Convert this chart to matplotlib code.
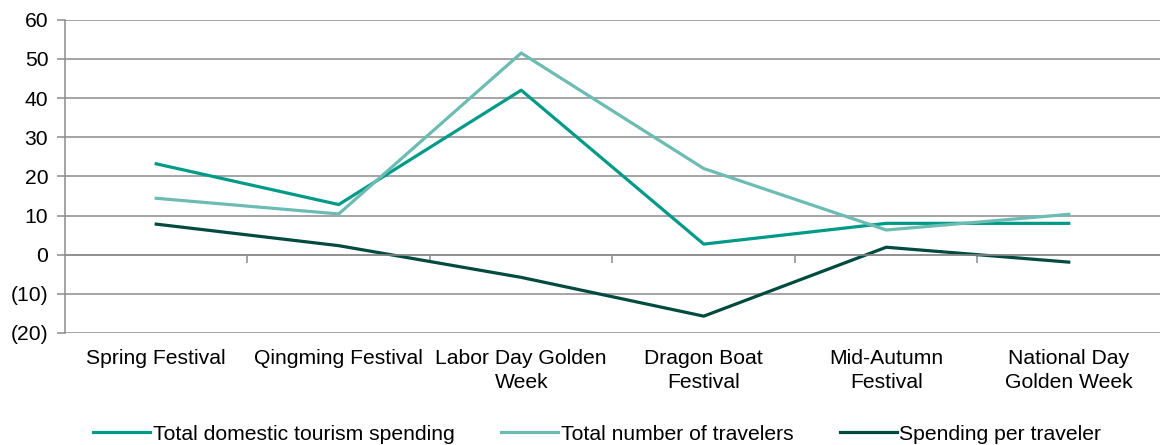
import matplotlib.pyplot as plt
from matplotlib.transforms import blended_transform_factory

plt.rcParams['font.family'] = ['Liberation Sans', 'DejaVu Sans']

festivals = ['Spring Festival', 'Qingming Festival', 'Labor Day Golden\nWeek',
             'Dragon Boat\nFestival', 'Mid-Autumn\nFestival', 'National Day\nGolden Week']
total_spending = [23.2, 12.8, 42.0, 2.7, 8.0, 8.0]
total_travelers = [14.4, 10.4, 51.5, 22.0, 6.3, 10.3]
spending_per_traveler = [7.8, 2.3, -5.8, -15.7, 1.9, -1.9]

yticks = [-20, -10, 0, 10, 20, 30, 40, 50, 60]
ytick_labels = ['(20)', '(10)', '0', '10', '20', '30', '40', '50', '60']

grid_col = '#8c8c8c'
fs = 15.2

fig = plt.figure(figsize=(11.6, 4.45), dpi=100)
ax = fig.add_axes([0.056, 0.2517, 0.944, 0.704])

x = list(range(len(festivals)))
ax.plot(x, total_spending, color='#009a88', lw=2.3, label='Total domestic tourism spending')
ax.plot(x, total_travelers, color='#6cbcb4', lw=2.3, label='Total number of travelers')
ax.plot(x, spending_per_traveler, color='#004a40', lw=2.3, label='Spending per traveler')

ax.set_xlim(-0.5, len(festivals) - 0.5)
ax.set_ylim(-20, 60)
ax.set_yticks(yticks, ytick_labels, fontsize=fs)
ax.yaxis.grid(True, color=grid_col, lw=1.1)
ax.set_axisbelow(True)
ax.tick_params(axis='y', length=6, color=grid_col, width=1.1, pad=6)

for side in ['top', 'right']:
    ax.spines[side].set_visible(False)
ax.spines['left'].set_color(grid_col)
ax.spines['left'].set_linewidth(1.1)

# category axis sits on the zero line with ticks between categories
ax.spines['bottom'].set_position(('data', 0))
ax.spines['bottom'].set_color(grid_col)
ax.spines['bottom'].set_linewidth(1.1)
ax.set_xticks([i + 0.5 for i in range(len(festivals) - 1)])
ax.tick_params(axis='x', length=6, color=grid_col, width=1.1, labelbottom=False)

trans = blended_transform_factory(ax.transData, ax.transAxes)
for xi, name in zip(x, festivals):
    ax.text(xi, -0.05, name, transform=trans, ha='center', va='top',
            fontsize=fs, linespacing=1.35)

fig.legend(loc='lower center', bbox_to_anchor=(0.515, -0.04), ncol=3, frameon=False,
           fontsize=fs, handlelength=2.7, handletextpad=0.12, columnspacing=2.2)

fig.savefig('out.png', dpi=100)
